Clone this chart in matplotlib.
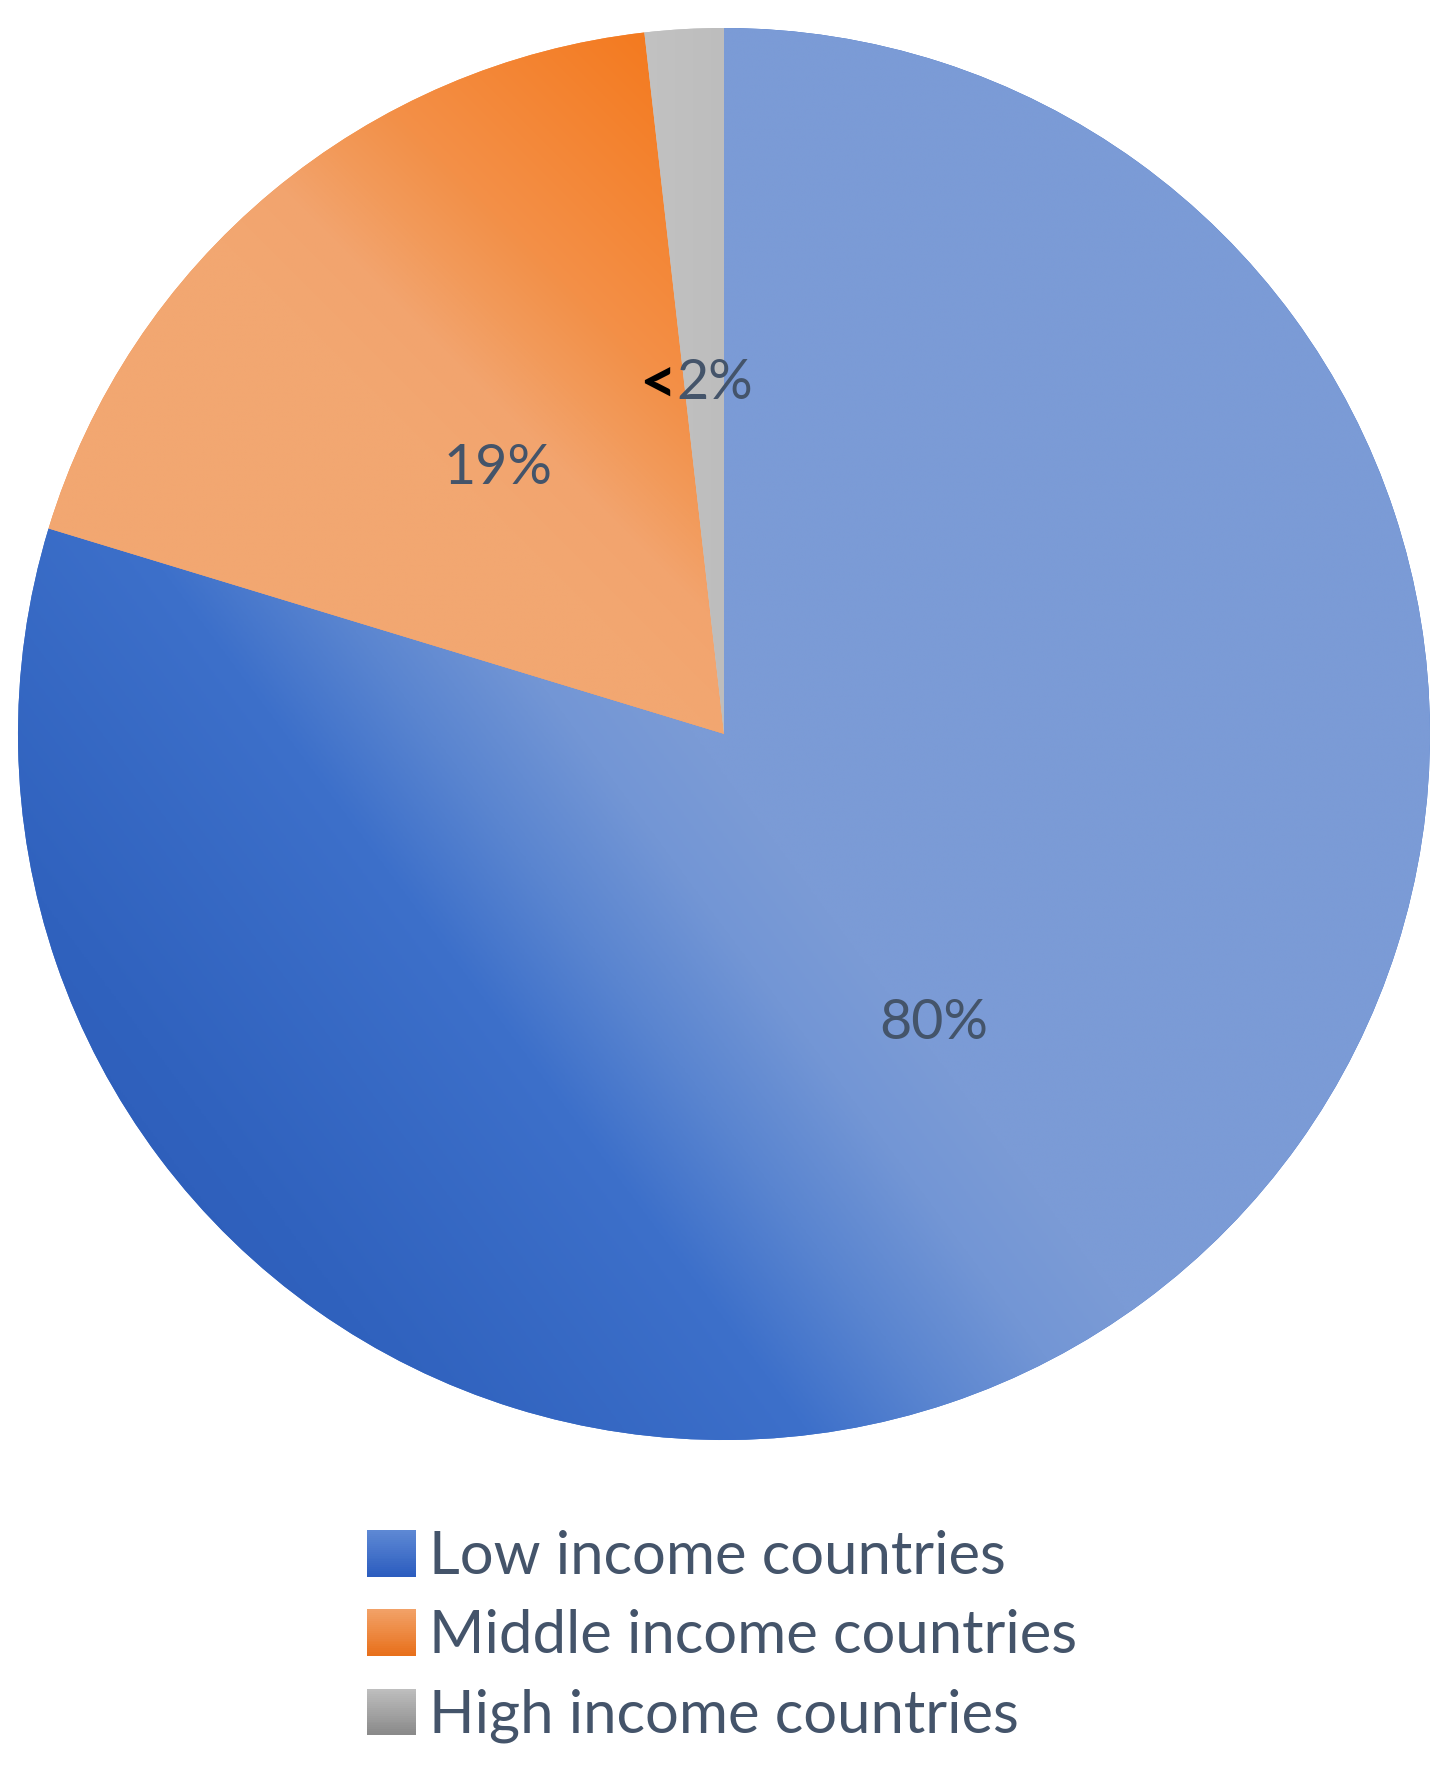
import matplotlib
matplotlib.use("Agg")
import matplotlib.pyplot as plt
import numpy as np
from matplotlib.colors import LinearSegmentedColormap
from matplotlib.legend_handler import HandlerBase
from matplotlib.patches import Rectangle

plt.rcParams["font.family"] = ["Lato", "DejaVu Sans"]

# data
categories = ["Low income countries", "Middle income countries", "High income countries"]
shares = [79.7, 18.5, 1.8]
pct_labels = ["80%", "19%", "2%"]

text_color = "#44546A"

# gradient stops (position, colour) per slice
blue_stops = [(0.0, "#7B9BD6"), (0.12, "#7396D5"), (0.27, "#5A85D0"), (0.42, "#3D70CA"), (0.8, "#3062BE"), (1.0, "#2D5CB8")]
orange_stops = [(0.0, "#F47A1F"), (0.53, "#F39048"), (0.68, "#F29A5A"), (0.82, "#F2A46E"), (1.0, "#F2A771")]
gray_stops = [(0.0, "#C2C2C2"), (1.0, "#BDBDBD")]

legend_grads = [("#5D88D4", "#2C5DBF"), ("#F2A167", "#E8701B"), ("#BEBEBE", "#8A8A8A")]


class GradientHandler(HandlerBase):
    def __init__(self, top, bottom, n=24):
        super().__init__()
        self.top, self.bottom, self.n = top, bottom, n

    def create_artists(self, legend, orig_handle, xdescent, ydescent, width, height, fontsize, trans):
        cmap = LinearSegmentedColormap.from_list("g", [self.bottom, self.top])
        arts = []
        for i in range(self.n):
            r = Rectangle((-xdescent, -ydescent + height * i / self.n), width, height / self.n * 1.05,
                          facecolor=cmap(i / (self.n - 1)), edgecolor="none", transform=trans)
            arts.append(r)
        return arts


fig = plt.figure(figsize=(14.51, 17.66), dpi=100)
ax = fig.add_axes([18 / 1451, 326 / 1766, 1412 / 1451, 1412 / 1766])

wedges, texts = ax.pie(shares, startangle=90, counterclock=False, radius=1,
                       labels=pct_labels, labeldistance=0.5,
                       wedgeprops=dict(linewidth=0),
                       textprops=dict(color=text_color, fontsize=40))
ax.set_xlim(-1, 1)
ax.set_ylim(-1, 1)
ax.set_aspect("equal")
ax.axis("off")

# gradient fills clipped to each wedge (computed in image pixel space)
n = 800
gx, gy = np.meshgrid(np.linspace(-1, 1, n), np.linspace(1, -1, n))
px = 725 + gx * 706
py = 732 - gy * 706

t_blue = ((px - 626) * -0.80 + (py - 987) * 0.60 + 210) / 780
t_orange = ((px - 650) * -0.707 + (py - 30) * 0.707) / 450
t_gray = (px - 640) / 90

for w, t, stops in zip(wedges, [t_blue, t_orange, t_gray], [blue_stops, orange_stops, gray_stops]):
    cmap = LinearSegmentedColormap.from_list("s", stops)
    w.set_facecolor(cmap(0.5))
    im = ax.imshow(np.clip(t, 0, 1), cmap=cmap, vmin=0, vmax=1, extent=(-1, 1, -1, 1),
                   interpolation="bilinear", zorder=w.get_zorder() + 0.1)
    im.set_clip_path(w)

for t in texts:
    t.set_ha("center")
    t.set_va("center")
    t.set_zorder(5)
    x, y = t.get_position()
    t.set_position((x, y - 0.008))

texts[2].set_ha("left")
texts[2].set_position((-0.068, 0.496))
ax.annotate("<", xy=(0, 0.5), xycoords=texts[2], ha="right", va="center",
            fontsize=46, color="black", fontweight="bold", zorder=5)

handles = [Rectangle((0, 0), 1, 1) for _ in categories]
fig.legend(handles, categories, loc="upper left", bbox_to_anchor=(367 / 1451, 0.1334),
           frameon=False, fontsize=43, borderpad=0, borderaxespad=0,
           handlelength=0.82, handleheight=0.82,
           handletextpad=0.22, labelspacing=0.42, labelcolor=text_color,
           handler_map={h: GradientHandler(*g) for h, g in zip(handles, legend_grads)})

fig.savefig("out.png", dpi=100)
